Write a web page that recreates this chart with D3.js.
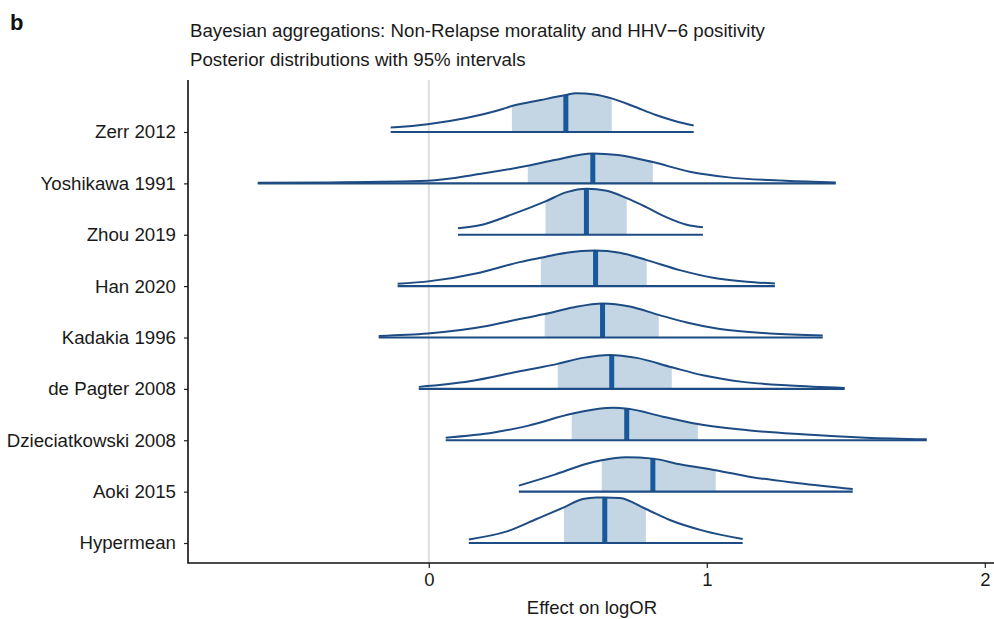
<!DOCTYPE html>
<html>
<head>
<meta charset="utf-8">
<script src="https://cdn.jsdelivr.net/npm/d3@7"></script>
<style>
  body { margin: 0; background: #fff; }
  svg { width: 994px; height: 619px; display: block; font-family: "Liberation Sans", Arial, sans-serif; }
</style>
</head>
<body>
<svg></svg>
<script>
// Входные данные: исследования (сверху вниз)
const studies = ["Zerr 2012", "Yoshikawa 1991", "Zhou 2019", "Han 2020", "Kadakia 1996",
                 "de Pagter 2008", "Dzieciatkowski 2008", "Aoki 2015", "Hypermean"];

// медианы апостериорных распределений
const medians = [0.493, 0.59, 0.567, 0.6, 0.625, 0.658, 0.712, 0.806, 0.633];

// границы закрашенного интервала
const intervalLow  = [0.299, 0.356, 0.42, 0.403, 0.417, 0.464, 0.514, 0.622, 0.486];
const intervalHigh = [0.658, 0.806, 0.712, 0.784, 0.827, 0.874, 0.968, 1.032, 0.781];

// плотности: пары [logOR, плотность]
const densities = [
  [[-0.137,0.22],[-0.004,0.39],[0.13,0.69],[0.266,1.15],[0.299,1.3],[0.403,1.6],[0.493,1.85],
   [0.529,1.94],[0.597,1.88],[0.658,1.68],[0.734,1.3],[0.817,0.85],[0.885,0.55],[0.953,0.32]],
  [[-0.615,0.03],[-0.356,0.05],[-0.004,0.13],[0.183,0.47],[0.356,0.88],[0.457,1.18],[0.59,1.5],
   [0.68,1.42],[0.802,1.08],[0.939,0.58],[1.079,0.3],[1.284,0.13],[1.464,0.05]],
  [[0.105,0.33],[0.183,0.47],[0.302,1.03],[0.42,1.67],[0.496,2.13],[0.568,2.3],[0.64,2.2],
   [0.712,1.83],[0.784,1.37],[0.856,0.87],[0.928,0.5],[0.986,0.37]],
  [[-0.112,0.12],[0.004,0.25],[0.183,0.67],[0.327,1.2],[0.403,1.42],[0.496,1.67],[0.597,1.78],
   [0.687,1.67],[0.784,1.3],[0.903,0.8],[1.022,0.42],[1.144,0.22],[1.245,0.13]],
  [[-0.18,0.08],[-0.004,0.2],[0.209,0.58],[0.327,0.92],[0.417,1.17],[0.518,1.5],[0.626,1.7],
   [0.723,1.55],[0.827,1.13],[0.928,0.75],[1.047,0.42],[1.227,0.2],[1.417,0.1]],
  [[-0.036,0.1],[0.147,0.38],[0.327,0.88],[0.464,1.25],[0.554,1.55],[0.651,1.7],[0.748,1.55],
   [0.874,1.08],[0.986,0.68],[1.129,0.35],[1.299,0.17],[1.496,0.05]],
  [[0.061,0.13],[0.234,0.39],[0.356,0.72],[0.514,1.32],[0.612,1.57],[0.662,1.62],[0.716,1.57],
   [0.842,1.18],[0.968,0.81],[1.147,0.5],[1.342,0.3],[1.572,0.13],[1.791,0.05]],
  [[0.324,0.3],[0.453,0.85],[0.565,1.38],[0.622,1.57],[0.709,1.72],[0.806,1.65],[0.903,1.37],
   [1.032,1.07],[1.147,0.76],[1.331,0.42],[1.525,0.13]],
  [[0.144,0.18],[0.281,0.58],[0.388,1.2],[0.486,1.78],[0.554,2.2],[0.604,2.28],[0.633,2.28],
   [0.687,2.25],[0.781,1.7],[0.867,1.15],[0.986,0.62],[1.129,0.2]]
];

const xTicks = [0, 1, 2];

const lineColor = "#1d4b83";
const medianColor = "#17599a";
const shadeColor = "#c4d6e4";
const font = "Liberation Sans, Arial, sans-serif";

function drawRidges() {
  let svg = d3.select("svg");
  svg.selectAll("*").remove();

  const area = { left: 188, right: 994, top: 80, bottom: 563 };

  // шкалы
  const scX = d3.scaleLinear().domain([-0.866, 2.033]).range([area.left, area.right]);
  const scY = d3.scalePoint().domain(studies).range([132, 543]);
  const scD = d3.scaleLinear().domain([0, 1]).range([0, 20]); // плотность -> пиксели

  // нулевая линия
  svg.append("line")
    .attr("x1", scX(0)).attr("x2", scX(0))
    .attr("y1", area.top).attr("y2", area.bottom)
    .style("stroke", "#dedede").style("stroke-width", 2);

  const defs = svg.append("defs");

  studies.forEach((name, i) => {
    const base = scY(name);
    const dens = densities[i];
    const x0 = dens[0][0], x1 = dens[dens.length - 1][0];

    const areaGen = d3.area()
      .x(d => scX(d[0]))
      .y0(base)
      .y1(d => base - scD(d[1]))
      .curve(d3.curveMonotoneX);
    const lineGen = d3.line()
      .x(d => scX(d[0]))
      .y(d => base - scD(d[1]))
      .curve(d3.curveMonotoneX);

    defs.append("clipPath").attr("id", "clip" + i)
      .append("path").attr("d", areaGen(dens));

    const g = svg.append("g").attr("clip-path", `url(#clip${i})`);

    // закрашенный интервал
    g.append("rect")
      .attr("x", scX(intervalLow[i]))
      .attr("y", base - 60)
      .attr("width", scX(intervalHigh[i]) - scX(intervalLow[i]))
      .attr("height", 60)
      .style("fill", shadeColor);

    // медиана
    g.append("rect")
      .attr("x", scX(medians[i]) - 2.5)
      .attr("y", base - 60)
      .attr("width", 5)
      .attr("height", 60)
      .style("fill", medianColor);

    // контур плотности
    svg.append("path")
      .attr("d", lineGen(dens))
      .style("fill", "none")
      .style("stroke", lineColor)
      .style("stroke-width", 2);

    // базовая линия
    svg.append("line")
      .attr("x1", scX(x0)).attr("x2", scX(x1))
      .attr("y1", base).attr("y2", base)
      .style("stroke", lineColor)
      .style("stroke-width", 2.2);
  });

  // оси
  const axisX = d3.axisBottom(scX).tickValues(xTicks).tickSize(5).tickSizeOuter(0).tickFormat(d3.format("d"));
  const gx = svg.append("g")
    .attr("transform", `translate(0, ${area.bottom})`)
    .call(axisX);
  gx.select(".domain").remove();
  gx.selectAll("line").style("stroke", "#222").style("stroke-width", 1.2);
  gx.selectAll("text").attr("y", 10).style("font-size", "18.5px").style("fill", "#1a1a1a")
    .style("font-family", font);

  const axisY = d3.axisLeft(scY).tickSize(4).tickSizeOuter(0).tickPadding(8);
  const gy = svg.append("g")
    .attr("transform", `translate(${area.left}, 0)`)
    .call(axisY);
  gy.select(".domain").remove();
  gy.selectAll("line").style("stroke", "#222").style("stroke-width", 1.2);
  gy.selectAll("text").style("font-size", "18.7px").style("fill", "#1a1a1a")
    .style("font-family", font);

  // линии осей
  svg.append("path")
    .attr("d", `M${area.left},${area.top}V${area.bottom}H${area.right}`)
    .style("fill", "none").style("stroke", "#111").style("stroke-width", 1.6);

  // подписи
  svg.append("text").attr("x", 10).attr("y", 30).text("b")
    .style("font-size", "22px").style("font-weight", "bold").style("fill", "#111");
  svg.append("text").attr("x", 190).attr("y", 37)
    .text("Bayesian aggregations: Non-Relapse moratality and HHV\u22126 positivity")
    .style("font-size", "18.7px").style("fill", "#1a1a1a");
  svg.append("text").attr("x", 190).attr("y", 66)
    .text("Posterior distributions with 95% intervals")
    .style("font-size", "18.7px").style("fill", "#1a1a1a");
  svg.append("text").attr("x", 592).attr("y", 614).attr("text-anchor", "middle")
    .text("Effect on logOR")
    .style("font-size", "18.5px").style("fill", "#1a1a1a");
}

drawRidges();
</script>
</body>
</html>
